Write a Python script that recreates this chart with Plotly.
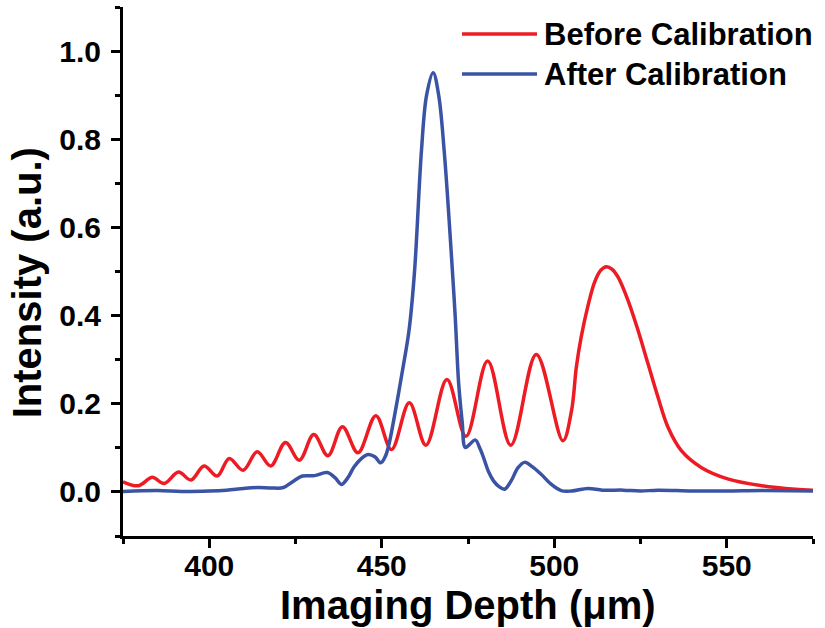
import plotly.graph_objects as go

# ---- data ----
before_x = [375, 379.5, 383.5, 386.9, 391.1, 394.7, 398.5, 402.3, 405.8, 409.8,
            413.9, 417.8, 422.1, 426.1, 430.3, 434.4, 438.6, 443.1, 448.3, 452.8,
            458.0, 462.8, 468.9, 474.4, 480.7, 487.4, 494.8, 502.5, 505.0, 506.4,
            507.8, 509.8, 511.7, 513.5, 515.1, 516.8, 518.5, 521.4, 524.3, 527.2,
            530.1, 533.0, 536.9, 542.7, 550.5, 560.2, 569.9, 575]
before_y = [0.023, 0.014, 0.033, 0.019, 0.045, 0.027, 0.059, 0.036, 0.076, 0.049,
            0.091, 0.059, 0.112, 0.072, 0.130, 0.082, 0.148, 0.089, 0.173, 0.096,
            0.202, 0.106, 0.255, 0.126, 0.297, 0.106, 0.312, 0.116, 0.184, 0.283,
            0.351, 0.423, 0.476, 0.503, 0.511, 0.505, 0.487, 0.434, 0.366, 0.290,
            0.214, 0.146, 0.093, 0.055, 0.029, 0.014, 0.006, 0.004]

after_x = [375, 385, 392, 400, 405, 410, 414, 418, 421.5, 424.5,
           427, 430.5, 434.2, 436.5, 438.3, 440, 442, 444, 446, 448,
           449.7, 451, 452, 454.1, 456, 457.9, 459.5, 461.5, 463, 464.9,
           466.5, 468.1, 470.1, 471.3, 472.3, 473.3, 474.2, 475.5, 477.1, 478.5,
           479.5, 481, 482.4, 484, 485.6, 487.5, 489.5, 491.4, 493.5, 496.2,
           499, 502, 505, 509.8, 514, 520, 525, 530, 540, 550,
           560, 575]
after_y = [0.001, 0.003, 0.001, 0.002, 0.004, 0.008, 0.010, 0.009, 0.010, 0.025,
           0.036, 0.037, 0.044, 0.032, 0.017, 0.030, 0.057, 0.075, 0.085, 0.080,
           0.066, 0.080, 0.105, 0.190, 0.275, 0.366, 0.500, 0.773, 0.900, 0.951,
           0.900, 0.773, 0.548, 0.396, 0.245, 0.160, 0.101, 0.108, 0.118, 0.098,
           0.078, 0.045, 0.025, 0.012, 0.006, 0.025, 0.055, 0.067, 0.058, 0.040,
           0.018, 0.003, 0.002, 0.008, 0.004, 0.004, 0.002, 0.004, 0.002, 0.002,
           0.003, 0.002]

x_ticks = [400, 450, 500, 550]
y_ticks = [0.0, 0.2, 0.4, 0.6, 0.8, 1.0]
series_names = ["Before Calibration", "After Calibration"]

RED = "#ED1C24"
BLUE = "#3A53A4"
FONT = "Liberation Sans"

fig = go.Figure()
fig.add_trace(go.Scatter(x=before_x, y=before_y, mode="lines", name=series_names[0],
                         line=dict(color=RED, width=3.5, shape="spline", smoothing=1.0),
                         showlegend=False))
fig.add_trace(go.Scatter(x=after_x, y=after_y, mode="lines", name=series_names[1],
                         line=dict(color=BLUE, width=3.5, shape="spline", smoothing=1.0),
                         showlegend=False))

axis_common = dict(showline=True, linecolor="black", linewidth=3, ticks="outside",
                   ticklen=9, tickwidth=3, tickcolor="black", showgrid=False, zeroline=False,
                   mirror=False,
                   tickfont=dict(family=FONT, size=30, color="black", weight="bold"))

fig.update_layout(
    width=825, height=628,
    margin=dict(l=123, r=12, t=7, b=92),
    paper_bgcolor="white", plot_bgcolor="white",
    xaxis=dict(range=[375, 575], tickvals=x_ticks,
               minor=dict(dtick=25, tick0=375, ticklen=5, tickwidth=3, tickcolor="black", ticks="outside"),
               ticklabelstandoff=-8,
               **axis_common),
    yaxis=dict(range=[-0.1, 1.1], tickvals=y_ticks, tickformat=".1f",
               minor=dict(dtick=0.1, tick0=0, ticklen=5, tickwidth=3, tickcolor="black", ticks="outside"),
               ticklabelstandoff=4,
               **axis_common),
)

# axis titles placed as annotations
fig.add_annotation(text="Imaging Depth (μm)", xref="paper", yref="paper",
                   x=0.5, y=(535.5 - 604) / 528.5, xanchor="center", yanchor="middle",
                   showarrow=False, font=dict(family=FONT, size=40, color="black", weight="bold"))
fig.add_annotation(text="Intensity (a.u.)", textangle=-90, xref="paper", yref="paper",
                   x=(27 - 123) / 690, y=(535.5 - 283) / 528.5, xanchor="center", yanchor="middle",
                   showarrow=False, font=dict(family=FONT, size=40, color="black", weight="bold"))

# legend drawn manually (long line samples as in the reference)
leg = [(series_names[0], RED, 34), (series_names[1], BLUE, 74)]
for name, col, ypx in leg:
    yp = (535.5 - ypx) / 528.5
    fig.add_shape(type="line", xref="paper", yref="paper",
                  x0=(462 - 123) / 690, x1=(537 - 123) / 690, y0=yp, y1=yp,
                  line=dict(color=col, width=3.5))
    fig.add_annotation(text=name, xref="paper", yref="paper", x=(542 - 123) / 690, y=yp,
                       xanchor="left", yanchor="middle", showarrow=False,
                       font=dict(family=FONT, size=31, color="black", weight="bold"))

fig.write_html("out.html")
